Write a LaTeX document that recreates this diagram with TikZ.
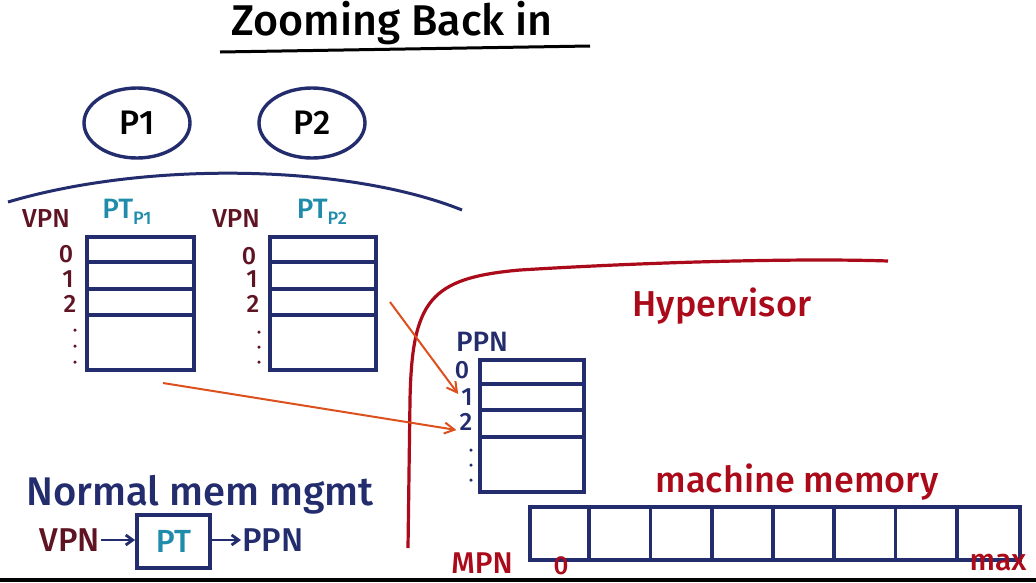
\documentclass[tikz,border=0pt]{standalone}
\usepackage{fontspec}
\setmainfont{Fira Sans}[UprightFont={* Medium}]
\usetikzlibrary{arrows.meta,calc,shapes.geometric}
\definecolor{navy}{RGB}{35,45,110}
\definecolor{tealc}{RGB}{30,140,170}
\definecolor{maroon}{RGB}{95,20,35}
\definecolor{dred}{RGB}{170,10,25}
\definecolor{orng}{RGB}{220,80,30}
\tikzset{
  tbl/.style={draw=navy, line width=3.8pt, rectangle, anchor=north west, inner sep=0pt},
  rowline/.style={draw=navy, line width=3.8pt},
  proc/.style={draw=navy, line width=3.4pt, ellipse, minimum width=106pt, minimum height=70pt, inner sep=0pt, font=\fontsize{34}{34}\selectfont, text=black},
  num/.style={font=\fontsize{25}{25}\selectfont, inner sep=1pt},
  lbl/.style={font=\fontsize{26}{26}\selectfont, inner sep=1pt},
  maparrow/.style={draw=orng, line width=2pt, -{Straight Barb[length=10pt,width=11pt]}},
  smallarrow/.style={line width=2.8pt, -{Straight Barb[length=7pt,width=10pt]}},
  dotmark/.style={circle, inner sep=0pt, minimum size=3.5pt},
}
\begin{document}
\begin{tikzpicture}[x=1pt,y=-1pt]
\useasboundingbox (0,0) rectangle (1036,582);
\fill[white] (0,0) rectangle (1036,582);
\fill[black] (0,578) rectangle (1036,582);
% title
\node[font=\fontsize{43}{43}\selectfont, text=black] (title) at (392,23) {Zooming Back in};
\draw[line width=3pt, black] (220,52) -- (590,46);
% processes
\node[proc] (p1) at (137,123) {P1};
\node[proc] (p2) at (312,123) {P2};
% arc over page tables
\draw[navy, line width=3pt] (8,202) .. controls (150,160) and (350,165) .. (462,210);
% page table 1
\node[tbl, minimum width=107pt, minimum height=133pt] (t1) at (85,235) {};
\foreach \d in {27,54,80} \draw[rowline] ($(t1.north west)+(0,\d)$) -- ($(t1.north east)+(0,\d)$);
\node[lbl, text=maroon] (vpn1) at (46,219) {VPN};
\node[font=\fontsize{28}{28}\selectfont, inner sep=1pt, text=tealc] (pt1) at (127,212) {PT\raisebox{-6pt}{\fontsize{18}{18}\selectfont P1}};
\node[num, text=maroon] (a0) at (66,254) {0};
\node[num, text=maroon] (a1) at (68,279) {1};
\node[num, text=maroon] (a2) at (70,304) {2};
\foreach \y in {330,346,362} \node[dotmark, fill=maroon] at (75,\y) {};
% page table 2
\node[tbl, minimum width=106pt, minimum height=133pt] (t2) at (268,235) {};
\foreach \d in {27,54,80} \draw[rowline] ($(t2.north west)+(0,\d)$) -- ($(t2.north east)+(0,\d)$);
\node[lbl, text=maroon] (vpn2) at (236,219) {VPN};
\node[font=\fontsize{28}{28}\selectfont, inner sep=1pt, text=tealc] (pt2) at (322,212) {PT\raisebox{-6pt}{\fontsize{18}{18}\selectfont P2}};
\node[num, text=maroon] (b0) at (249,256) {0};
\node[num, text=maroon] (b1) at (252,279) {1};
\node[num, text=maroon] (b2) at (253,304) {2};
\foreach \y in {332,347,362} \node[dotmark, fill=maroon] at (259,\y) {};
% hypervisor boundary
\draw[dred, line width=3.2pt] (408,548) -- (410,400) .. controls (412,300) and (430,278) .. (520,270) .. controls (650,262) and (800,258) .. (888,261);
\node[font=\fontsize{36}{36}\selectfont, text=dred] (hyp) at (722,306) {Hypervisor};
% physical page table
\node[tbl, minimum width=104pt, minimum height=132pt] (t3) at (478,358) {};
\foreach \d in {26,52,79} \draw[rowline] ($(t3.north west)+(0,\d)$) -- ($(t3.north east)+(0,\d)$);
\node[font=\fontsize{28}{28}\selectfont, inner sep=1pt, text=navy] (ppn) at (482,342) {PPN};
\node[num, text=navy] (c0) at (462,370) {0};
\node[num, text=navy] (c1) at (467,397) {1};
\node[num, text=navy] (c2) at (466,422) {2};
\foreach \y in {450,465,480} \node[dotmark, fill=navy] at (471,\y) {};
% mapping arrows
\coordinate (s1) at (390,302);
\coordinate (s2) at (163,383);
\draw[maparrow] (s1) -- ($(c1.west)+(-2,-3)$);
\draw[maparrow] (s2) -- ($(c2.west)+(-2,8)$);
% normal mem mgmt
\node[font=\fontsize{40}{40}\selectfont, text=navy] (normal) at (200,495) {Normal mem mgmt};
\node[tbl, anchor=center, minimum width=73pt, minimum height=53pt, text=tealc, font=\fontsize{32}{32}\selectfont] (ptbox) at (173.5,541.5) {PT};
\node[font=\fontsize{33}{33}\selectfont, inner sep=1pt, text=maroon, anchor=east] (vpn3) at (101,540) {VPN};
\node[font=\fontsize{33}{33}\selectfont, inner sep=1pt, text=navy, anchor=west] (ppn3) at (241,540) {PPN};
\draw[smallarrow, navy] (vpn3.east) -- (ptbox.west |- vpn3.east);
\draw[smallarrow, navy] (ptbox.east |- ppn3.west) -- (ppn3.west);
% machine memory
\node[font=\fontsize{36}{36}\selectfont, text=dred] (mm) at (797,482) {machine memory};
\node[tbl, minimum width=490pt, minimum height=53pt] (mem) at (528,505) {};
\foreach \i in {1,...,7} \draw[rowline] ($(mem.north west)+(\i*61.25,0)$) -- ($(mem.south west)+(\i*61.25,0)$);
\node[font=\fontsize{30}{30}\selectfont, inner sep=1pt, text=dred] (mpn) at (482,563) {MPN};
\node[font=\fontsize{26}{26}\selectfont, inner sep=1pt, text=dred] (m0) at (561,566) {0};
\node[font=\fontsize{30}{30}\selectfont, inner sep=1pt, text=dred] (mmax) at (998,563) {max};
\end{tikzpicture}
\end{document}
